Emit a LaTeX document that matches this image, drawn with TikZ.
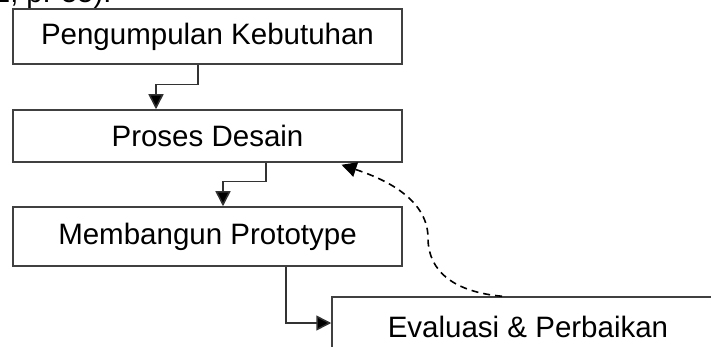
\documentclass[tikz,border=0pt]{standalone}
\usepackage{fontspec}
\setmainfont{Liberation Sans}
\usetikzlibrary{arrows.meta}
\tikzset{
  box/.style={draw=black!75, line width=1.5pt, fill=white, inner sep=0pt,
    font=\fontsize{29.5}{34}\selectfont, text=black},
  arr/.style={draw=black!80, line width=1.5pt,
    -{Triangle[length=15pt,width=15pt,fill=black]}},
  darr/.style={draw=black, line width=1.6pt, dash pattern=on 7pt off 5pt,
    -{Triangle[length=15pt,width=15pt,fill=black]}},
}
\begin{document}
\begin{tikzpicture}[x=1pt,y=-1pt]
\useasboundingbox (0,0) rectangle (711,347);
\clip (0,0) rectangle (711,347);
\node[anchor=base west, font=\fontsize{29}{34}\selectfont, inner sep=0pt] (cite) at (-6,3) {2, p. 55).};
\node[box, minimum width=389pt, minimum height=55pt] (b1) at (207.5,36.5) {Pengumpulan Kebutuhan};
\node[box, minimum width=389pt, minimum height=52pt] (b2) at (207.5,136) {Proses Desain};
\node[box, minimum width=389pt, minimum height=59pt] (b3) at (207.5,236.5) {Membangun Prototype};
\node[box, minimum width=392pt, minimum height=60pt] (b4) at (528,327) {Evaluasi \& Perbaikan};
\draw[arr] ([xshift=-9.5pt]b1.south) -- ++(0,20) -| ([xshift=-51.5pt]b2.north);
\draw[arr] ([xshift=58.5pt]b2.south) -- ++(0,19) -| ([xshift=15.5pt]b3.north);
\draw[arr] ([xshift=78.5pt]b3.south) |- ([yshift=4pt]b4.west);
\coordinate (dstart) at ([xshift=-26pt]b4.north);
\coordinate (dend) at ([xshift=134pt,yshift=-2pt]b2.south);
\draw[darr] (dstart) .. controls (455,292) and (428,272) .. (428,238)
  .. controls (428,195) and (375,176) .. (dend);
\end{tikzpicture}
\end{document}
